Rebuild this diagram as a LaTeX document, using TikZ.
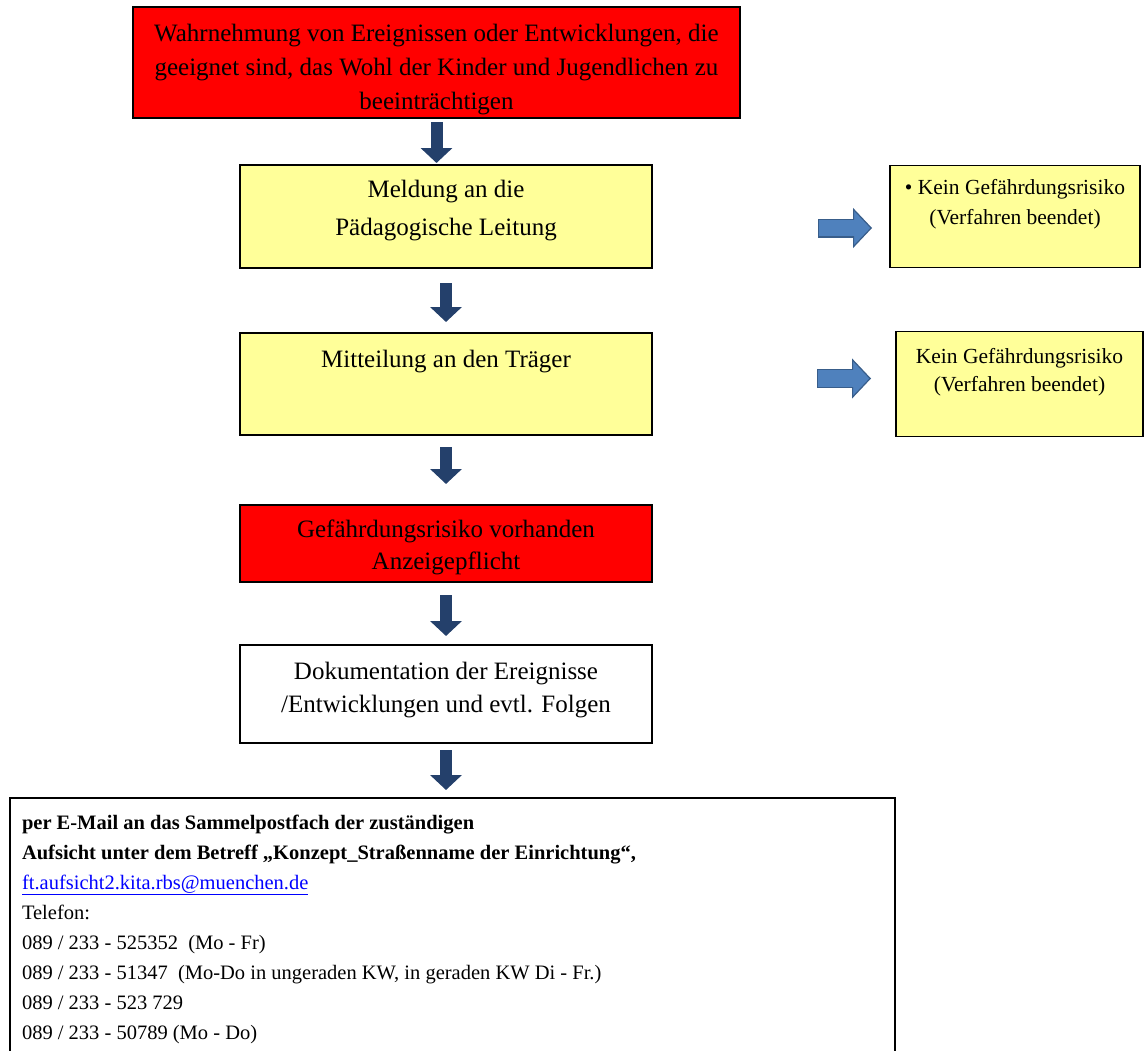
\documentclass[tikz,border=0pt]{standalone}
\usepackage{fontspec}
\setmainfont{Liberation Serif}
\usetikzlibrary{positioning, arrows.meta}

\definecolor{rot}{HTML}{FF0000}
\definecolor{gelb}{HTML}{FFFF99}
\definecolor{navy}{HTML}{24406B}
\definecolor{hellblau}{HTML}{4F81BD}
\definecolor{randblau}{HTML}{385D8A}
\definecolor{linkblau}{HTML}{0000FF}

\tikzset{
  kasten/.style={rectangle, draw=black, line width=1.5pt, inner sep=0pt, outer sep=0pt},
  rotkasten/.style={kasten, fill=rot},
  gelbkasten/.style={kasten, fill=gelb},
  pfeil/.style={draw=navy, line width=12pt, -{Triangle[length=15pt,width=31pt]}},
  seitpfeil/.style 2 args={draw=randblau, line width=19pt,
    -{Triangle[length=19pt,width=40pt,fill=hellblau,line width=1.2pt]},
    shorten <=#1, shorten >=#2,
    postaction={draw=hellblau, line width=16.5pt, -, shorten <=#1+1.2pt, shorten >=#2+17pt}}
}

\begin{document}
\begin{tikzpicture}[x=1pt,y=1pt]
  \useasboundingbox (0,0) rectangle (1145,-1050);

  % linke Spalte
  \node[rotkasten] (wahr) at (436.5,-62.5)
    {\parbox[c][111pt][t]{607pt}{\centering\fontsize{25}{34}\selectfont
      \rule{0pt}{34pt}Wahrnehmung von Ereignissen oder Entwicklungen, die\\
      geeignet sind, das Wohl der Kinder und Jugendlichen zu\\
      beeinträchtigen}};
  \node[gelbkasten] (meld) [below=47pt of wahr, xshift=9.5pt]
    {\parbox[c][103pt][t]{412pt}{\centering\fontsize{25}{38}\selectfont
      \rule{0pt}{32pt}Meldung an die\\
      Pädagogische Leitung}};
  \node[gelbkasten] (mitt) [below=65pt of meld]
    {\parbox[c][102pt][t]{412pt}{\centering\fontsize{25}{34}\selectfont
      \rule{0pt}{34pt}Mitteilung an den Träger}};
  \node[rotkasten] (gef) [below=70pt of mitt]
    {\parbox[c][77pt][t]{412pt}{\centering\fontsize{25}{32}\selectfont
      \rule{0pt}{32pt}Gefährdungsrisiko vorhanden\\
      Anzeigepflicht}};
  \node[kasten, fill=white] (doku) [below=63pt of gef]
    {\parbox[c][98pt][t]{412pt}{\centering\fontsize{25}{33}\selectfont
      \rule{0pt}{34pt}Dokumentation der Ereignisse\\
      /Entwicklungen und evtl. Folgen}};
  \node[kasten, fill=white, inner xsep=12pt] (mail) [below=55pt of doku, xshift=6.5pt]
    {\parbox[c][264pt][t]{861pt}{\raggedright\fontsize{20.5}{30}\selectfont
      \rule{0pt}{31pt}\textbf{per E-Mail an das Sammelpostfach der zuständigen}\\
      \textbf{Aufsicht unter dem Betreff „Konzept\_Straßenname der Einrichtung“,}\\
      {\color{linkblau}\underline{ft.aufsicht2.kita.rbs@muenchen.de}}\\
      Telefon:\\
      089 / 233 - 525352\ \ (Mo - Fr)\\
      089 / 233 - 51347\ \ (Mo-Do in ungeraden KW, in geraden KW Di - Fr.)\\
      089 / 233 - 523 729\\
      089 / 233 - 50789 (Mo - Do)}};

  % rechte Spalte
  \node[gelbkasten] (kein1) [right=238pt of meld]
    {\parbox[c][102pt][t]{250pt}{\centering\fontsize{21.5}{30}\selectfont
      \rule{0pt}{29pt}• Kein Gefährdungsrisiko\\
      (Verfahren beendet)}};
  \node[gelbkasten] (kein2) [right=244pt of mitt]
    {\parbox[c][105pt][t]{247pt}{\centering\fontsize{21.5}{28}\selectfont
      \rule{0pt}{32pt}Kein Gefährdungsrisiko\\
      (Verfahren beendet)}};

  % Pfeile
  \draw[pfeil, shorten <=4pt, shorten >=2pt] (wahr.south) -- (wahr.south |- meld.north);
  \draw[pfeil, shorten <=15pt, shorten >=11pt] (meld.south) -- (mitt.north);
  \draw[pfeil, shorten <=12pt, shorten >=21pt] (mitt.south) -- (gef.north);
  \draw[pfeil, shorten <=13pt, shorten >=9pt] (gef.south) -- (doku.north);
  \draw[pfeil, shorten <=7pt, shorten >=8pt] (doku.south) -- (doku.south |- mail.north);
  \draw[seitpfeil={166pt}{18pt}] ([yshift=-11.5pt]meld.east) -- ([yshift=-11.5pt]meld.east -| kein1.west);
  \draw[seitpfeil={165pt}{25pt}] ([yshift=5.5pt]mitt.east) -- ([yshift=5.5pt]mitt.east -| kein2.west);
\end{tikzpicture}
\end{document}
